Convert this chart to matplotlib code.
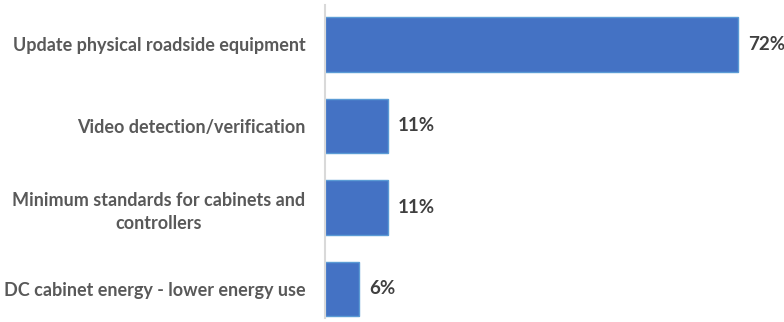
import matplotlib.pyplot as plt

categories = ["Update physical roadside equipment",
              "Video detection/verification",
              "Minimum standards for cabinets and\ncontrollers",
              "DC cabinet energy - lower energy use"]
values = [72, 11, 11, 6]
value_labels = ["72%", "11%", "11%", "6%"]

plt.rcParams['font.family'] = ['Lato', 'DejaVu Sans']

fig = plt.figure(figsize=(7.84, 3.22), dpi=100)
ax = fig.add_axes([325 / 784, 0, 1 - 325 / 784, 1])

ypos = list(range(len(categories)))
ax.barh(ypos, values, height=0.67, color="#4472C4", edgecolor="#5B9BD5", linewidth=1)

for y, v, lab in zip(ypos, values, value_labels):
    ax.text(v + 1.7, y, lab, va="center", ha="left", fontsize=13.5,
            fontweight="bold", color="#404040")

ax.set_yticks(ypos)
ax.set_yticklabels(categories, fontsize=13, fontweight="bold", color="#595959",
                   ha="right", multialignment="center", linespacing=1.45)
ax.tick_params(axis="y", length=0, pad=14)
ax.set_xticks([])
ax.set_xlim(0, 80)
ax.set_ylim(3.405, -0.546)

for s in ["top", "right", "bottom"]:
    ax.spines[s].set_visible(False)
ax.spines["left"].set_color("#D9D9D9")
ax.spines["left"].set_linewidth(1.5)
ax.spines["left"].set_bounds(3.36, -0.49)

fig.savefig("out.png", dpi=100)
